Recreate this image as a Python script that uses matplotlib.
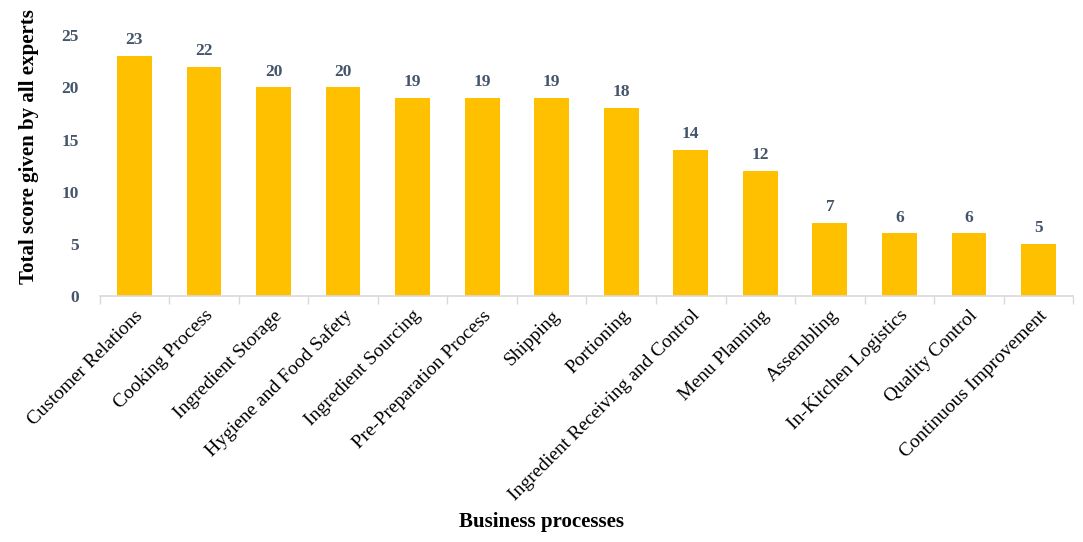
import matplotlib
matplotlib.use("Agg")
import matplotlib.pyplot as plt
import numpy as np

categories = ["Customer Relations", "Cooking Process", "Ingredient Storage",
              "Hygiene and Food Safety", "Ingredient Sourcing", "Pre-Preparation Process",
              "Shipping", "Portioning", "Ingredient Receiving and Control", "Menu Planning",
              "Assembling", "In-Kitchen Logistics", "Quality Control", "Continuous Improvement"]
scores = [23, 22, 20, 20, 19, 19, 19, 18, 14, 12, 7, 6, 6, 5]
yticks = [0, 5, 10, 15, 20, 25]

plt.rcParams['font.family'] = ['Liberation Serif', 'DejaVu Serif']

fig = plt.figure(figsize=(10.83, 5.42), dpi=100)
ax = fig.add_axes([0.092, 0.454, 0.899, 0.481])

x = np.arange(len(categories))
bars = ax.bar(x, scores, width=0.5, color="#FFC000", zorder=2)
for xi, v in zip(x, scores):
    ax.text(xi, v + 0.75, str(v), ha="center", va="bottom", fontsize=12.5,
            fontweight="bold", color="#44546A", clip_on=False)

ax.set_xlim(-0.5, len(categories) - 0.5)
ax.set_ylim(0, 25)
ax.set_yticks(yticks)
ax.set_yticklabels([str(t) for t in yticks], fontsize=12.5, fontweight="bold", color="#44546A")
ax.tick_params(axis="y", length=0, pad=15)

ax.set_xticks(x)
ax.set_xticklabels(categories, rotation=45, ha="right", rotation_mode="anchor",
                   fontsize=14, color="black")
ax.tick_params(axis="x", length=0, pad=8)
# boundary ticks
ax.set_xticks(np.arange(len(categories) + 1) - 0.5, minor=True)
ax.tick_params(axis="x", which="minor", length=6, color="#D9D9D9", width=1)

for s in ["top", "right", "left"]:
    ax.spines[s].set_visible(False)
ax.spines["bottom"].set_color("#D9D9D9")
ax.spines["bottom"].set_linewidth(1.2)

fig.text(0.027, 0.729, "Total score given by all experts", rotation=90, ha="center",
         va="center", fontsize=15, fontweight="bold")
fig.text(0.5, 0.037, "Business processes", ha="center", va="center",
         fontsize=15, fontweight="bold")

fig.savefig("out.png", dpi=100)
